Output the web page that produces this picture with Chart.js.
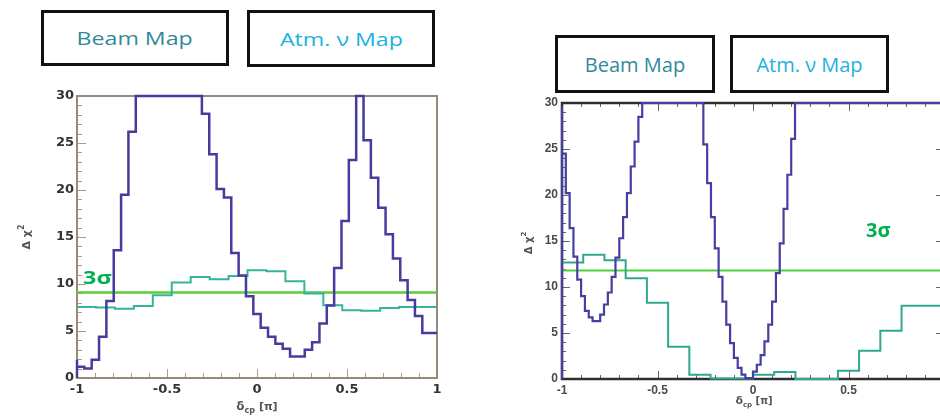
<!DOCTYPE html>
<html>
<head>
<meta charset="utf-8">
<script src="https://cdn.jsdelivr.net/npm/chart.js@4.4.1/dist/chart.umd.min.js"></script>
<style>
    html, body { margin: 0; padding: 0; background: #fff; overflow: hidden; }
    body { width: 940px; height: 417px; position: relative; }
    .panel { position: absolute; top: 0; }
    .map-box {
        position: absolute;
        box-sizing: border-box;
        border: 3px solid #111;
        display: flex;
        align-items: center;
        justify-content: center;
        font-family: "Open Sans", sans-serif;
        white-space: nowrap;
    }
    .map-box span { display: inline-block; }
    .beam { color: #33899c; }
    .atm { color: #1db0e2; }
    .sigma {
        position: absolute;
        font-family: "Open Sans", sans-serif;
        font-weight: 700;
        color: #00b050;
        white-space: nowrap;
        line-height: 1;
    }
</style>
</head>
<body>
<div class="map-box beam" style="left:41px;top:10px;width:188px;height:56px;font-size:19px"><span style="transform:scaleX(1.22)">Beam Map</span></div>
<div class="map-box atm" style="left:247px;top:10px;width:188px;height:57px;font-size:19px"><span style="transform:scaleX(1.22)">Atm. ν Map</span></div>
<div class="map-box beam" style="left:555px;top:35px;width:160px;height:58px;font-size:20px"><span>Beam Map</span></div>
<div class="map-box atm" style="left:730px;top:35px;width:159px;height:58px;font-size:20px"><span>Atm. ν Map</span></div>

<div class="panel" style="left:0"><canvas id="left-chart" width="470" height="417"></canvas></div>
<div class="panel" style="left:480px"><canvas id="right-chart" width="480" height="417"></canvas></div>

<div class="sigma" style="left:83px;top:268px;font-size:18px"><span style="display:inline-block;transform:scaleX(1.3);transform-origin:left">3σ</span></div>
<div class="sigma" style="left:866px;top:220px;font-size:20px">3σ</div>

<script>
const X_TICK_VALUES = [-1, -0.5, 0, 0.5, 1];
const Y_TICK_VALUES = [0, 5, 10, 15, 20, 25, 30];
const X_MINOR_DIVISIONS = 5;
const Y_MINOR_DIVISIONS = 5;
const X_MIN = -1;
const X_MAX = 1;
const Y_MAX = 30;

// left plot: beam fit in 49 bins, atmospheric fit in 19 bins (values above 30 are off the frame)
const LEFT_BEAM_BINS = 49;
const leftBeamChi2 = [
    1.95, 1.2, 1.0, 1.95, 4.4, 8.2, 13.6, 19.5, 26.2,
    32, 38, 43, 46, 47, 45, 41, 36, 31,
    28.1, 23.8, 20.1, 19.2, 13.3, 10.9, 8.7, 6.8, 5.35, 4.4, 3.65, 3.1,
    2.3, 2.3, 3.0, 3.8, 5.8, 7.7, 11.7, 16.7, 23.2, 31,
    25.3, 21.3, 18.1, 15.3, 12.7, 10.4, 8.3, 6.6, 4.8,
];
const LEFT_ATM_BINS = 19;
const leftAtmChi2 = [
    7.55, 7.55, 7.5, 7.38, 7.66, 8.8, 10.15, 10.75, 10.5, 10.85,
    11.46, 11.35, 10.3, 8.98, 7.73, 7.2, 7.15, 7.45, 7.55,
];
const LEFT_THREE_SIGMA = 9.1;

// right plot: beam fit in 100 bins, atmospheric fit in 18 bins
const RIGHT_BEAM_BINS = 100;
const rightBeamChi2 = [
    29.6, 24.5, 20.2, 16.4, 13.3, 10.8, 9.0, 7.4, 6.7, 6.3,
    6.3, 7.0, 8.1, 9.4, 11.1, 13.2, 15.3, 17.6, 20.2, 23.1,
    25.8, 28.5, 31, 34, 36.5, 38.5, 40, 41, 41.5, 41.5,
    41, 40, 38.5, 36.5, 34.5, 32.5, 31, 30.5, 25.5, 21.3,
    17.6, 14.2, 11.1, 8.4, 5.9, 3.9, 2.3, 1.2, 0.47, 0.1,
    0.1, 0.8, 1.55, 2.6, 4.1, 5.9, 8.4, 11.5, 14.75, 18.5,
    22.2, 26.1, 30.5, 35, 39.5, 44, 48, 52, 56, 59,
    62, 65, 67, 69, 70.5, 71.5, 72, 72, 71.5, 70.5,
    69, 67, 65, 62.5, 60, 57, 54, 51, 48, 45,
    42, 39, 36.5, 34, 33, 32.5, 32.5, 33, 33.5, 34,
];
const RIGHT_ATM_BINS = 18;
const rightAtmChi2 = [
    10.6, 12.65, 13.5, 12.9, 10.95, 8.3, 3.5, 0.47, 0.05,
    0.05, 0.47, 0.76, 0.0, 0.0, 0.9, 3.07, 5.24, 7.95,
];
const RIGHT_THREE_SIGMA = 11.8;

// ROOT style: bins drawn as steps, clipped at the frame top
function histPoints(values, binCount, fromZero) {
    const width = (X_MAX - X_MIN) / binCount;
    const points = [];
    if (fromZero) {
        points.push({ x: X_MIN, y: 0 });
    }
    values.forEach((value, i) => {
        points.push({ x: X_MIN + i * width, y: Math.min(value, Y_MAX) });
    });
    points.push({ x: X_MAX, y: Math.min(values[values.length - 1], Y_MAX) });
    return points;
}

function levelPoints(level) {
    return [{ x: X_MIN, y: level }, { x: X_MAX, y: level }];
}

function subdivide(majors, parts) {
    const marks = [];
    majors.forEach((major, i) => {
        marks.push({ value: major, major: true });
        if (i < majors.length - 1) {
            const step = (majors[i + 1] - major) / parts;
            for (let j = 1; j < parts; j++) {
                marks.push({ value: major + j * step, major: false });
            }
        }
    });
    return marks;
}

function drawRuns(ctx, runs, centerX, baseline) {
    let total = 0;
    runs.forEach((run) => {
        ctx.font = run.font;
        total += ctx.measureText(run.text).width;
    });
    let x = centerX - total / 2;
    runs.forEach((run) => {
        ctx.font = run.font;
        ctx.fillText(run.text, x, baseline + (run.dy || 0));
        x += ctx.measureText(run.text).width;
    });
}

const rootFramePlugin = {
    id: "rootFrame",
    beforeDatasetsDraw(chart, _args, opts) {
        const { ctx, chartArea: area } = chart;
        const xScale = chart.scales.x;
        const yScale = chart.scales.y;
        ctx.save();
        ctx.strokeStyle = opts.tickColor;
        ctx.lineWidth = 1;
        ctx.beginPath();
        subdivide(X_TICK_VALUES, X_MINOR_DIVISIONS).forEach(({ value, major }) => {
            const px = Math.round(xScale.getPixelForValue(value)) + 0.5;
            const len = major ? opts.majorLength : opts.minorLength;
            ctx.moveTo(px, area.bottom);
            ctx.lineTo(px, area.bottom - len);
            if (opts.mirror) {
                ctx.moveTo(px, area.top);
                ctx.lineTo(px, area.top + len);
            }
        });
        subdivide(Y_TICK_VALUES, Y_MINOR_DIVISIONS).forEach(({ value, major }) => {
            const py = Math.round(yScale.getPixelForValue(value)) + 0.5;
            const len = major ? opts.majorLength : opts.minorLength;
            ctx.moveTo(area.left, py);
            ctx.lineTo(area.left + len, py);
            if (opts.mirror) {
                ctx.moveTo(area.right, py);
                ctx.lineTo(area.right - len, py);
            }
        });
        ctx.stroke();

        ctx.strokeStyle = opts.frameColor;
        ctx.lineWidth = opts.frameWidth;
        ctx.strokeRect(area.left, area.top, area.right - area.left, area.bottom - area.top);
        ctx.restore();
    },
    afterDraw(chart, _args, opts) {
        const { ctx } = chart;
        const family = opts.titleFamily;
        const size = opts.titleSize;
        ctx.save();
        ctx.fillStyle = opts.titleColor;
        ctx.textBaseline = "alphabetic";
        drawRuns(ctx, [
            { text: "δ", font: `bold ${size + 1}px ${family}` },
            { text: "cp", font: `bold ${Math.round(size * 0.7)}px ${family}`, dy: 3 },
            { text: " [π]", font: `bold ${size}px ${family}` },
        ], opts.xTitleAt[0], opts.xTitleAt[1]);

        ctx.translate(opts.yTitleAt[0], opts.yTitleAt[1]);
        ctx.rotate(-Math.PI / 2);
        drawRuns(ctx, [
            { text: "Δ χ", font: `bold ${size}px ${family}` },
            { text: "2", font: `bold ${Math.round(size * 0.7)}px ${family}`, dy: -6 },
        ], 0, 0);
        ctx.restore();
    },
};

function makeChart(canvasId, setup) {
    const tickFont = setup.tickFont;
    return new Chart(document.getElementById(canvasId), {
        type: "line",
        data: {
            datasets: [
                {
                    data: histPoints(setup.beam, setup.beamBins, true),
                    borderColor: setup.beamColor,
                    borderWidth: setup.beamWidth,
                    stepped: "after",
                    clip: 2,
                    order: 1,
                },
                {
                    data: histPoints(setup.atm, setup.atmBins, setup.atmFromZero),
                    borderColor: setup.atmColor,
                    borderWidth: 2,
                    stepped: "after",
                    clip: 2,
                    order: 2,
                },
                {
                    data: levelPoints(setup.sigma),
                    borderColor: setup.sigmaColor,
                    borderWidth: setup.sigmaWidth,
                    clip: 2,
                    order: 3,
                },
            ],
        },
        options: {
            responsive: false,
            animation: false,
            devicePixelRatio: 1,
            elements: { point: { radius: 0 } },
            layout: { padding: setup.padding },
            plugins: {
                legend: { display: false },
                tooltip: { enabled: false },
                rootFrame: setup.frame,
            },
            scales: {
                x: {
                    type: "linear",
                    min: X_MIN,
                    max: X_MAX,
                    afterBuildTicks: (scale) => {
                        scale.ticks = X_TICK_VALUES.map((value) => ({ value }));
                    },
                    afterFit: (scale) => {
                        scale.height = setup.xAxisHeight;
                    },
                    ticks: {
                        autoSkip: false,
                        maxRotation: 0,
                        padding: setup.xTickPadding,
                        color: setup.tickColor,
                        font: tickFont,
                        callback: (value) => String(value),
                    },
                    grid: { display: false, drawTicks: false },
                    border: { display: false },
                },
                y: {
                    type: "linear",
                    min: 0,
                    max: Y_MAX,
                    afterBuildTicks: (scale) => {
                        scale.ticks = Y_TICK_VALUES.map((value) => ({ value }));
                    },
                    afterFit: (scale) => {
                        scale.width = setup.yAxisWidth;
                    },
                    ticks: {
                        padding: setup.yTickPadding,
                        color: setup.tickColor,
                        font: tickFont,
                        callback: (value) => String(value),
                    },
                    grid: { display: false, drawTicks: false },
                    border: { display: false },
                },
            },
        },
        plugins: [rootFramePlugin],
    });
}

makeChart("left-chart", {
    beam: leftBeamChi2,
    beamBins: LEFT_BEAM_BINS,
    atm: leftAtmChi2,
    atmBins: LEFT_ATM_BINS,
    atmFromZero: false,
    sigma: LEFT_THREE_SIGMA,
    beamColor: "#453c9e",
    beamWidth: 2.5,
    atmColor: "#35b49c",
    sigmaColor: "#5ccb3e",
    sigmaWidth: 2.5,
    padding: { top: 96, right: 33, left: 0, bottom: 0 },
    xAxisHeight: 39,
    yAxisWidth: 77,
    xTickPadding: 4,
    yTickPadding: 3,
    tickColor: "#333",
    tickFont: { family: "DejaVu Sans", size: 13, weight: "bold" },
    frame: {
        frameColor: "#978a78",
        frameWidth: 2,
        tickColor: "#a89b88",
        majorLength: 9,
        minorLength: 5,
        mirror: false,
        titleFamily: "DejaVu Sans",
        titleSize: 11,
        titleColor: "#555",
        xTitleAt: [257, 410],
        yTitleAt: [30, 237],
    },
});

makeChart("right-chart", {
    beam: rightBeamChi2,
    beamBins: RIGHT_BEAM_BINS,
    atm: rightAtmChi2,
    atmBins: RIGHT_ATM_BINS,
    atmFromZero: true,
    sigma: RIGHT_THREE_SIGMA,
    beamColor: "#463fa2",
    beamWidth: 2.2,
    atmColor: "#2fa88f",
    sigmaColor: "#4fd13f",
    sigmaWidth: 2,
    padding: { top: 103, right: 16, left: 0, bottom: 0 },
    xAxisHeight: 38,
    yAxisWidth: 82,
    xTickPadding: 4,
    yTickPadding: 4,
    tickColor: "#4a4a4a",
    tickFont: { family: "Liberation Sans", size: 12, weight: "bold" },
    frame: {
        frameColor: "#2e2e2e",
        frameWidth: 2.5,
        tickColor: "#666",
        majorLength: 8,
        minorLength: 4,
        mirror: true,
        titleFamily: "DejaVu Sans",
        titleSize: 10,
        titleColor: "#555",
        xTitleAt: [274, 404],
        yTitleAt: [52, 243],
    },
});
</script>
</body>
</html>
